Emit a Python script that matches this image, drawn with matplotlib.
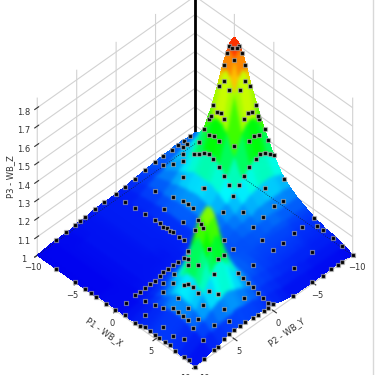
import numpy as np
import matplotlib
matplotlib.use("Agg")
import matplotlib.pyplot as plt
from matplotlib.colors import LinearSegmentedColormap, LightSource, Normalize
from matplotlib.lines import Line2D

# surface nodes
x_nodes = [-10, -8, -6, -5, -4, -3.5, -3, -2.5, -2, -1, 0, 1, 2, 3, 4, 4.5, 5, 5.5, 6, 6.5, 7, 8, 9, 10]
y_nodes = [-10, -9, -8.5, -8, -7.5, -7, -6, -5, -4, -3, -2, -1, 0, 1, 2, 3, 3.5, 4, 4.5, 5, 6, 7, 8, 10]
z_rows = [
    [1.06, 1.13, 1.24, 1.33, 1.43, 1.46, 1.47, 1.46, 1.43, 1.33, 1.24, 1.17, 1.13, 1.10, 1.08, 1.07, 1.06, 1.05, 1.05, 1.04, 1.04, 1.03, 1.02, 1.00],
    [1.06, 1.14, 1.28, 1.43, 1.61, 1.68, 1.71, 1.68, 1.61, 1.43, 1.28, 1.19, 1.14, 1.10, 1.08, 1.07, 1.06, 1.05, 1.05, 1.04, 1.04, 1.03, 1.02, 1.01],
    [1.065, 1.14, 1.30, 1.46, 1.68, 1.77, 1.81, 1.77, 1.68, 1.46, 1.30, 1.20, 1.14, 1.10, 1.08, 1.07, 1.06, 1.05, 1.05, 1.04, 1.04, 1.03, 1.02, 1.01],
    [1.065, 1.14, 1.30, 1.47, 1.71, 1.81, 1.85, 1.81, 1.71, 1.47, 1.30, 1.20, 1.14, 1.10, 1.08, 1.07, 1.06, 1.06, 1.05, 1.05, 1.04, 1.03, 1.02, 1.01],
    [1.065, 1.14, 1.30, 1.46, 1.68, 1.77, 1.81, 1.77, 1.68, 1.46, 1.30, 1.20, 1.14, 1.10, 1.08, 1.07, 1.06, 1.05, 1.05, 1.04, 1.04, 1.03, 1.02, 1.01],
    [1.06, 1.14, 1.28, 1.43, 1.61, 1.68, 1.71, 1.68, 1.61, 1.43, 1.28, 1.19, 1.14, 1.11, 1.09, 1.08, 1.07, 1.07, 1.06, 1.05, 1.05, 1.03, 1.02, 1.01],
    [1.06, 1.13, 1.24, 1.33, 1.43, 1.46, 1.47, 1.46, 1.43, 1.33, 1.24, 1.18, 1.14, 1.11, 1.09, 1.08, 1.07, 1.07, 1.06, 1.06, 1.05, 1.03, 1.02, 1.01],
    [1.055, 1.12, 1.19, 1.25, 1.29, 1.31, 1.31, 1.31, 1.29, 1.25, 1.20, 1.16, 1.12, 1.10, 1.08, 1.08, 1.07, 1.07, 1.06, 1.06, 1.05, 1.04, 1.03, 1.01],
    [1.05, 1.10, 1.15, 1.18, 1.21, 1.21, 1.21, 1.21, 1.21, 1.19, 1.16, 1.13, 1.11, 1.09, 1.08, 1.08, 1.07, 1.07, 1.06, 1.06, 1.05, 1.04, 1.03, 1.01],
    [1.045, 1.09, 1.12, 1.14, 1.15, 1.15, 1.16, 1.16, 1.15, 1.14, 1.13, 1.11, 1.10, 1.09, 1.08, 1.08, 1.07, 1.07, 1.07, 1.06, 1.06, 1.04, 1.03, 1.01],
    [1.04, 1.07, 1.09, 1.10, 1.11, 1.11, 1.11, 1.11, 1.11, 1.10, 1.10, 1.09, 1.08, 1.08, 1.08, 1.08, 1.08, 1.08, 1.07, 1.07, 1.07, 1.05, 1.03, 1.015],
    [1.035, 1.05, 1.06, 1.07, 1.07, 1.07, 1.07, 1.07, 1.07, 1.07, 1.07, 1.07, 1.08, 1.08, 1.09, 1.09, 1.09, 1.09, 1.09, 1.08, 1.08, 1.06, 1.05, 1.025],
    [1.03, 1.03, 1.04, 1.04, 1.04, 1.04, 1.04, 1.04, 1.04, 1.04, 1.05, 1.06, 1.07, 1.08, 1.09, 1.09, 1.09, 1.09, 1.09, 1.09, 1.08, 1.06, 1.05, 1.04],
    [1.03, 1.03, 1.03, 1.03, 1.03, 1.03, 1.03, 1.03, 1.03, 1.03, 1.04, 1.05, 1.07, 1.10, 1.13, 1.14, 1.15, 1.16, 1.15, 1.14, 1.13, 1.10, 1.07, 1.045],
    [1.03, 1.03, 1.03, 1.03, 1.03, 1.03, 1.03, 1.03, 1.03, 1.03, 1.03, 1.05, 1.08, 1.13, 1.19, 1.22, 1.24, 1.25, 1.24, 1.22, 1.19, 1.13, 1.09, 1.05],
    [1.03, 1.03, 1.03, 1.03, 1.03, 1.03, 1.03, 1.03, 1.02, 1.02, 1.03, 1.06, 1.09, 1.16, 1.26, 1.34, 1.41, 1.44, 1.41, 1.34, 1.26, 1.15, 1.09, 1.05],
    [1.02, 1.02, 1.02, 1.02, 1.02, 1.02, 1.02, 1.02, 1.02, 1.02, 1.03, 1.06, 1.10, 1.17, 1.31, 1.41, 1.50, 1.53, 1.50, 1.41, 1.30, 1.16, 1.10, 1.05],
    [1.02, 1.02, 1.02, 1.02, 1.02, 1.02, 1.02, 1.02, 1.02, 1.02, 1.03, 1.06, 1.10, 1.17, 1.32, 1.43, 1.50, 1.55, 1.50, 1.43, 1.31, 1.17, 1.10, 1.05],
    [1.02, 1.02, 1.02, 1.02, 1.02, 1.02, 1.02, 1.02, 1.02, 1.02, 1.03, 1.06, 1.10, 1.17, 1.31, 1.39, 1.48, 1.51, 1.48, 1.39, 1.30, 1.16, 1.09, 1.05],
    [1.02, 1.02, 1.02, 1.02, 1.02, 1.02, 1.02, 1.02, 1.02, 1.02, 1.02, 1.05, 1.09, 1.15, 1.27, 1.34, 1.39, 1.42, 1.39, 1.34, 1.26, 1.15, 1.09, 1.05],
    [1.01, 1.02, 1.02, 1.02, 1.02, 1.02, 1.02, 1.02, 1.02, 1.02, 1.02, 1.04, 1.07, 1.12, 1.19, 1.21, 1.24, 1.24, 1.24, 1.21, 1.19, 1.13, 1.08, 1.045],
    [1.01, 1.01, 1.01, 1.01, 1.01, 1.01, 1.01, 1.01, 1.01, 1.01, 1.02, 1.03, 1.05, 1.08, 1.12, 1.14, 1.15, 1.15, 1.14, 1.14, 1.13, 1.10, 1.07, 1.03],
    [1.01, 1.01, 1.01, 1.01, 1.01, 1.01, 1.01, 1.01, 1.01, 1.01, 1.01, 1.02, 1.04, 1.06, 1.08, 1.09, 1.10, 1.10, 1.10, 1.10, 1.09, 1.07, 1.05, 1.02],
    [1.00, 1.00, 1.00, 1.00, 1.00, 1.00, 1.00, 1.00, 1.01, 1.01, 1.01, 1.01, 1.01, 1.02, 1.02, 1.02, 1.02, 1.02, 1.02, 1.02, 1.02, 1.01, 1.01, 1.00],
]

# sample points sitting on the surface
edge_x = [-10] * 17 + [-7.6, -5.2, -3.9, -3.2, -2.6, -1.3, -0.2, 1.1, 2.4, 3.0, 3.6, 4.3, 4.9, 5.5, 6.2, 6.8, 7.5, 8.6, 9.2, 10] + [10] * 20
edge_y = [7.6, 6.4, 5.2, 4.6, 3.9, 2.7, 1.5, 0.06, -1.1, -2.4, -3.6, -4.9, -5.9, -7.1, -7.8, -8.6, -9.4] + [10] * 20 + [8.9, 7.6, 7.1, 6.3, 5.7, 5.0, 4.3, 3.6, 2.7, 2.0, 1.3, 0.7, 0.06, -2.4, -4.8, -6.2, -7.3, -8.1, -8.7, -10]
edge_z = [1.01, 1.02, 1.02, 1.02, 1.025, 1.03, 1.03, 1.03, 1.035, 1.04, 1.05, 1.055, 1.055, 1.055, 1.06, 1.06, 1.06] + [1.0, 1.0, 1.0, 1.0, 1.0, 1.0, 1.0, 1.01, 1.01, 1.01, 1.02, 1.02, 1.02, 1.02, 1.02, 1.02, 1.01, 1.01, 1.01, 1.0] + [1.01, 1.02, 1.02, 1.04, 1.05, 1.05, 1.05, 1.05, 1.045, 1.04, 1.04, 1.04, 1.04, 1.01, 1.01, 1.005, 1.005, 1.005, 1.005, 1.0]

peak_x = [-2.53, -3.17, -2.53, -2.83, -2.41, -3.39, -2.45, -2.17, -3.53, -1.75, -3.1, -1.75, -3.75, -1.75, -2.4,
          -1.62, -4.38, -1.19, -4.16, -1.16, -4.34, -1.1, -3.3, -1.15, -2.85, -1.14, -2.41, -1.09, -4.91,
          -0.56, -3.74, -0.55, -3.1, -0.55, -2.45, -1.2, -0.7, -5.23, 0.0, -5.25, -0.02, -4.48, 0.01, -3.81,
          0.03, -3.23, 0.08, -2.68, 0.03, -1.88, 0.03, -1.24, 0.02, -0.62, 1.33, 1.31, -2.51]
peak_y = [-8.17, -7.53, -7.83, -7.53, -8.39, -7.41, -7.45, -8.53, -7.17, -8.1, -6.75, -8.75, -6.75, -7.4, -6.75,
          -9.38, -6.62, -9.16, -6.19, -9.34, -6.16, -8.3, -6.1, -7.85, -6.15, -7.41, -6.14, -9.91, -6.09,
          -8.74, -5.56, -8.1, -5.55, -7.45, -5.55, -6.2, -10, -5.77, -10, -5.15, -9.48, -5.02, -8.81, -4.99,
          -8.23, -4.97, -7.68, -4.92, -6.88, -4.97, -6.24, -4.97, -5.62, -4.98, -10, -7.51, -3.69]
peak_z = [1.81, 1.81, 1.81, 1.81, 1.77, 1.77, 1.76, 1.71, 1.71, 1.645, 1.645, 1.60, 1.60, 1.62, 1.62,
          1.48, 1.48, 1.44, 1.44, 1.42, 1.42, 1.49, 1.49, 1.50, 1.50, 1.48, 1.48, 1.35, 1.35,
          1.37, 1.37, 1.385, 1.385, 1.38, 1.38, 1.37, 1.30, 1.28, 1.24, 1.235, 1.26, 1.26, 1.29, 1.29,
          1.30, 1.30, 1.29, 1.29, 1.27, 1.27, 1.24, 1.24, 1.21, 1.21, 1.152, 1.18, 1.18]

mid_x = [-2.75, -3.07, -2.4, -0.1, 1.3, -0.18, 2.6, 2.7, 2.84, 2.73, 5.36, 5.2, 5.95, 6.65, 7.85, 9.05, 7.85, 5.4, 5.7, 5.67, 4.2, 5.85, 8.25, 3.3, 2.0,
         5.5, 6.1, 6.75, 7.4, 8.0, 8.66, 9.3,
         -8.9, -7.64, -6.37, -5.1, -4.46, -4.08, -3.57, -3.18, -2.8, -2.04, -1.4,
         0, 0, 0, 0, 0, 0, 0, 0, 0, 0, 0, 0,
         -7.2, -5.15, -3.8, -4.97, -2.57, 0.9, 1.9, 1.2, 3.4, 1.9, 3.9, 0.05, 1.24, 2.4, 3.4, 4.35, 5.1, 5.96, 2.5,
         -8.9, -8.07, -7.7, -6.0, -8.5, -9.3, -9.3, 6.7, 5.5, 7.65]
mid_y = [-3.75, -2.17, -2.1, -3.7, -4.8, -5.02, -7.45, -8.5, -4.55, -5.93, -8.26, -9.9, -9.55, -9.55, -9.6, -9.65, -7.05, -7.1, -5.5, -4.27, -4.3, -1.55, -4.25, -1.5, -1.7,
         0, 0, 0, 0, 0, 0, 0,
         0, 0, 0, 0, 0, 0, 0, 0, 0, 0, 0,
         7.64, 7.0, 6.37, 5.73, 5.1, 4.46, 4.08, 3.44, 2.8, 2.17, 1.4, 0.9,
         -2.1, -2.35, -2.3, -1.03, -1.03, 5.0, 4.7, 3.9, 4.85, 6.0, 6.1, 8.85, 7.6, 7.5, 7.4, 7.15, 7.3, 7.5, 8.9,
         -4.9, -5.27, -6.2, -4.46, -7.0, -7.75, -8.3, 9.5, 9.6, 9.05]
mid_z = [1.17, 1.12, 1.12, 1.12, 1.13, 1.165, 1.12, 1.12, 1.10, 1.11, 1.065, 1.06, 1.05, 1.05, 1.04, 1.03, 1.04, 1.07, 1.07, 1.07, 1.08, 1.08, 1.05, 1.09, 1.09,
         1.07, 1.06, 1.054, 1.053, 1.04, 1.03, 1.02,
         1.022, 1.027, 1.033, 1.038, 1.04, 1.03, 1.04, 1.035, 1.04, 1.037, 1.04,
         1.016, 1.014, 1.016, 1.02, 1.016, 1.024, 1.03, 1.027, 1.03, 1.027, 1.03, 1.043,
         1.07, 1.09, 1.11, 1.07, 1.07, 1.03, 1.05, 1.05, 1.09, 1.04, 1.07, 1.01, 1.02, 1.03, 1.04, 1.06, 1.07, 1.08, 1.02,
         1.07, 1.09, 1.09, 1.11, 1.08, 1.07, 1.07, 1.05, 1.07, 1.05]

small_x = [4.95, 5.53, 5.8, 4.65, 6.54, 6.95, 7.09, 5.99, 7.26, 4.1, 4.65, 4.9, 5.55, 6.12, 6.74, 7.39, 7.97, 8.97, 8.85, 7.41, 6.4, 7.69, 9.01, 9.6, 7.05, 7.77, 9.16]
small_y = [4.55, 4.77, 4.8, 4.65, 4.76, 3.25, 4.16, 5.61, 4.84, 5.0, 5.55, 5.8, 6.45, 6.38, 6.36, 5.61, 5.04, 2.73, 5.15, 6.39, 7.3, 7.31, 6.59, 5.29, 7.95, 8.03, 8.14]
small_z = [1.48, 1.48, 1.47, 1.42, 1.375, 1.31, 1.32, 1.30, 1.265, 1.30, 1.29, 1.27, 1.205, 1.205, 1.19, 1.20, 1.185, 1.12, 1.13, 1.15, 1.13, 1.11, 1.095, 1.095, 1.10, 1.085, 1.065]

ticks_xy = [-10, -5, 0, 5, 10]
ticks_z = [1, 1.1, 1.2, 1.3, 1.4, 1.5, 1.6, 1.7, 1.8]
z_top = 1.855


def soften(sigma, keep_alpha=False):
    # gaussian blur used as agg filter, the reference is a soft upscaled image
    radius = int(3 * sigma) + 1
    kernel = np.exp(-0.5 * (np.arange(-radius, radius + 1) / sigma) ** 2)
    kernel = kernel / kernel.sum()

    def flt(img, dpi):
        img = np.pad(img, ((radius, radius), (radius, radius), (0, 0)))
        rgb = img[:, :, :3] * img[:, :, 3:]
        out = np.dstack([rgb, img[:, :, 3]])
        for ch in range(4):
            out[:, :, ch] = np.apply_along_axis(lambda v: np.convolve(v, kernel, mode='same'), 0, out[:, :, ch])
            out[:, :, ch] = np.apply_along_axis(lambda v: np.convolve(v, kernel, mode='same'), 1, out[:, :, ch])
        alpha = np.clip(out[:, :, 3:], 1e-4, 1)
        final = img[:, :, 3] if keep_alpha else out[:, :, 3]
        return np.dstack([np.clip(out[:, :, :3] / alpha, 0, 1), final]), -radius, -radius
    return flt


X, Y = np.meshgrid(x_nodes, y_nodes)
Z = np.array(z_rows)

cmap = LinearSegmentedColormap.from_list("surf", [
    (0.0, (0, 0, 0.95)), (0.08, (0, 0.25, 1)), (0.24, (0, 1, 1)), (0.46, (0, 1, 0)),
    (0.74, (1, 1, 0)), (0.87, (1, 0.55, 0)), (1.0, (1, 0, 0))])
norm = Normalize(1, 1.85)
face_z = (Z[:-1, :-1] + Z[1:, :-1] + Z[:-1, 1:] + Z[1:, 1:]) / 4

fig = plt.figure(figsize=(3.75, 3.75), dpi=100)
ax = fig.add_axes([0.0064, 0.016, 1, 1], projection='3d', proj_type='ortho', computed_zorder=False)
ax.view_init(elev=45, azim=135)
ax.set_box_aspect((1, 1, 1))
ax.set_xlim(10, -10)
ax.set_ylim(-10, 10)
ax.set_zlim(1, z_top)

ax.plot([-10, -10], [-10, -10], [1, z_top], color='black', lw=2, zorder=0.5)
surf = ax.plot_surface(X, Y, Z, facecolors=cmap(norm(face_z)), rstride=1, cstride=1, linewidth=0,
                       antialiased=False, shade=True,
                       lightsource=LightSource(azdeg=45, altdeg=75), zorder=1)
surf.set_agg_filter(soften(1.3, keep_alpha=True))
ax.plot([-4, 10], [-10, -10], [1, 1], color='#102040', lw=0.6, ls=':', zorder=2)
ax.plot([-10, -10], [-10, 10], [1, 1], color='#102040', lw=0.6, ls=':', zorder=2)
pts = ax.scatter(edge_x + peak_x + mid_x + small_x, edge_y + peak_y + mid_y + small_y, edge_z + peak_z + mid_z + small_z,
                 marker='s', s=9, c='black', edgecolors='#bcbcbc', linewidths=0.5, depthshade=False, zorder=5)
pts.set_agg_filter(soften(0.4))

ax.set_xticks(ticks_xy)
ax.set_yticks(ticks_xy)
ax.set_zticks(ticks_z)
ax.set_zticklabels(['1', '1.1', '1.2', '1.3', '1.4', '1.5', '1.6', '1.7', '1.8'])
ax.tick_params(labelsize=6, colors='#333333')
ax.tick_params(axis='x', pad=-4)
ax.tick_params(axis='y', pad=-4)
ax.tick_params(axis='z', pad=-2)
ax.get_xticklabels()[-1].set_ha('right')
ax.get_yticklabels()[-1].set_ha('left')
ax.zaxis.set_ticks_position('upper')
ax.zaxis.set_label_position('upper')
ax.set_xlabel('P1 - WB_X', fontsize=6, color='#333333', labelpad=-10)
ax.set_ylabel('P2 - WB_Y', fontsize=6, color='#333333', labelpad=-10)
ax.set_zlabel('P3 - WB_Z', fontsize=6, color='#333333', labelpad=-9)
for axis in (ax.xaxis, ax.yaxis, ax.zaxis):
    axis.set_pane_color((1, 1, 1, 0))
    axis.pane.set_edgecolor((1, 1, 1, 0))
    axis._axinfo['grid']['color'] = '#d2d2d2'
    axis._axinfo['grid']['linewidth'] = 0.8
    axis.line.set_color((1, 1, 1, 0))

fig.add_artist(Line2D([0.995, 0.995], [0, 1], color='#d8d8d8', lw=1))
fig.savefig('out.png', dpi=100)
